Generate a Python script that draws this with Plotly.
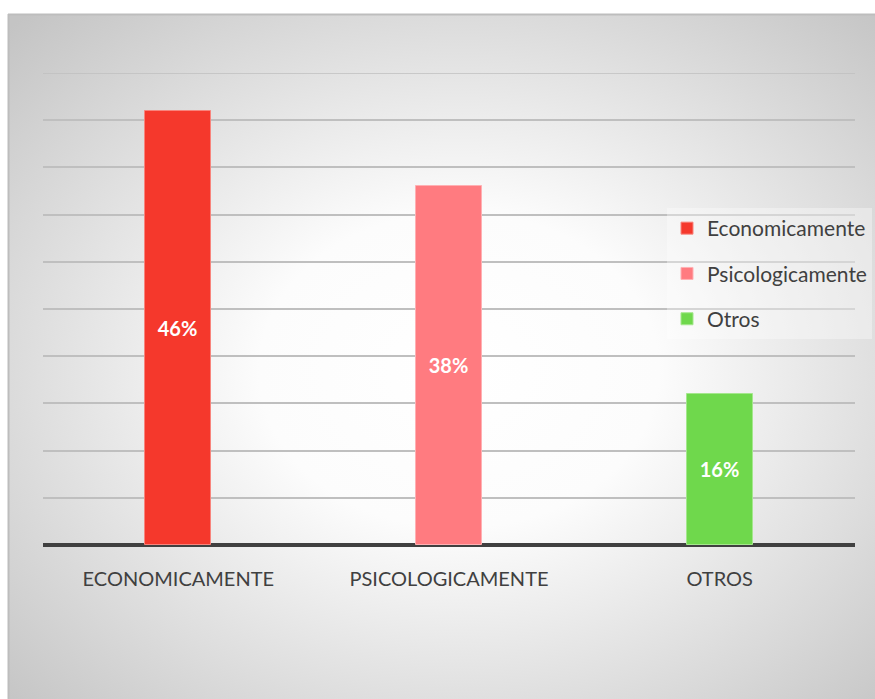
import base64
import plotly.graph_objects as go

# Survey results
categories = ["ECONOMICAMENTE", "PSICOLOGICAMENTE", "OTROS"]
series_names = ["Economicamente", "Psicologicamente", "Otros"]
values = [46, 38, 16]
colors = ["#f5382c", "#ff7b80", "#6fd84c"]
borders = ["#f8847c", "#ffb0b3", "#a4e78c"]

W, H = 875, 699
ML, MR, MT, MB = 43, 20, 73, 154
PW = W - ML - MR
PH = H - MT - MB


def px_x(p):
    return (p - ML) / PW


def px_y(p):
    return (H - MB - p) / PH


# radial gradient panel behind the chart
svg = (
    '<svg xmlns="http://www.w3.org/2000/svg" width="867" height="685" viewBox="0 0 867 685" preserveAspectRatio="none">'
    '<defs><radialGradient id="g" cx="0.52" cy="0.52" r="0.72">'
    '<stop offset="0" stop-color="#ffffff"/>'
    '<stop offset="0.32" stop-color="#fcfcfc"/>'
    '<stop offset="1" stop-color="#c4c4c4"/>'
    '</radialGradient></defs>'
    '<rect width="867" height="685" fill="url(#g)"/></svg>'
)
svg_uri = "data:image/svg+xml;base64," + base64.b64encode(svg.encode()).decode()

fig = go.Figure()
for cat, name, val, col, bcol in zip(categories, series_names, values, colors, borders):
    fig.add_trace(go.Bar(
        x=[cat], y=[val], name=name, legendgroup=name,
        width=0.245,
        marker=dict(color=col, line=dict(color=bcol, width=1)),
        text=[f"{val}%"], textposition="inside", insidetextanchor="middle",
        textfont=dict(color="white", size=20, family="Lato", weight="bold"),
        cliponaxis=False,
    ))

fig.add_layout_image(dict(
    source=svg_uri, xref="paper", yref="paper",
    x=px_x(8), y=px_y(14), sizex=px_x(W) - px_x(8), sizey=px_y(14) - px_y(H),
    xanchor="left", yanchor="top", sizing="stretch", layer="below",
))

# panel border (top and left edges visible)
fig.add_shape(type="line", xref="paper", yref="paper",
              x0=px_x(8), x1=px_x(W), y0=px_y(14.5), y1=px_y(14.5),
              line=dict(color="#bdbdbd", width=2))
fig.add_shape(type="line", xref="paper", yref="paper",
              x0=px_x(8.5), x1=px_x(8.5), y0=px_y(14), y1=px_y(H),
              line=dict(color="#bdbdbd", width=2))

# gridline at the top of the value range
fig.add_shape(type="line", xref="paper", yref="y", x0=0, x1=1, y0=50, y1=50,
              line=dict(color="#bfbfbf", width=1.5), layer="below")

fig.update_layout(
    width=W, height=H,
    margin=dict(l=ML, r=MR, t=MT, b=MB, autoexpand=False),
    paper_bgcolor="white", plot_bgcolor="rgba(0,0,0,0)",
    barmode="overlay",
    bargap=0,
    font=dict(family="Lato", color="#404040"),
    showlegend=True,
    legend=dict(
        x=px_x(667), y=px_y(208), xanchor="left", yanchor="top",
        bgcolor="rgba(255,255,255,0.35)",
        font=dict(size=21, color="#404040", family="Lato"),
        tracegroupgap=15, itemclick=False,
    ),
    xaxis=dict(
        tickfont=dict(size=20, color="#404040"),
        showline=False, ticks="", showgrid=False,
        ticklabelstandoff=20,
    ),
    yaxis=dict(
        range=[0, 50], dtick=5, showticklabels=False,
        showgrid=True, gridcolor="#bfbfbf", gridwidth=1.5,
        zeroline=True, zerolinecolor="#404040", zerolinewidth=3.5,
        showline=False, ticks="",
    ),
)

fig.write_html("out.html")
